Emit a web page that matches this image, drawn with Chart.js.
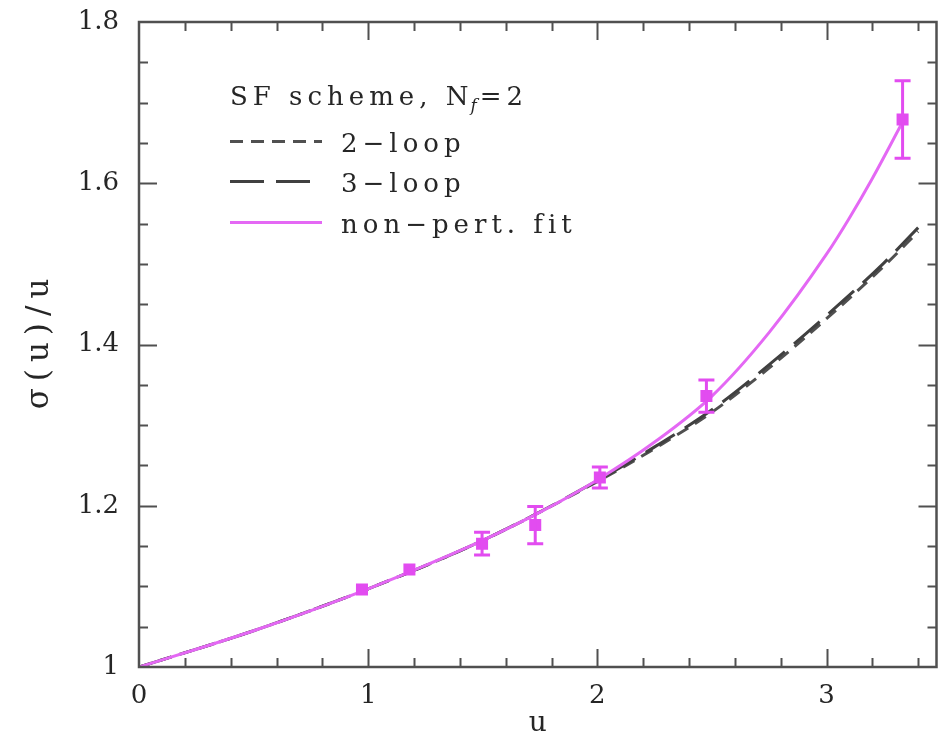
<!DOCTYPE html>
<html><head><meta charset="utf-8">
<script src="https://cdn.jsdelivr.net/npm/chart.js@4/dist/chart.umd.min.js"></script>
<style>html,body{margin:0;padding:0;background:#fff}#wrap{width:945px;height:742px;position:relative}</style>
</head><body><div id="wrap"><canvas id="c" width="945" height="742"></canvas></div>
<script>
// ---- data ----
const pointU   = [0.973, 1.180, 1.497, 1.729, 2.011, 2.476, 3.332];
const pointV   = [1.096, 1.121, 1.153, 1.176, 1.235, 1.336, 1.679];
const pointErr = [0.003, 0.004, 0.014, 0.023, 0.013, 0.020, 0.048];

const fitU = [0, 0.25, 0.5, 0.75, 1.0, 1.25, 1.5, 1.75, 2.0, 2.25, 2.5, 2.75, 3.0, 3.1, 3.2, 3.332];
const fitV = [1.000, 1.022, 1.045, 1.070, 1.097, 1.126, 1.157, 1.192, 1.232, 1.279, 1.336, 1.415, 1.512, 1.557, 1.606, 1.676];

const loop2U = [0, 0.5, 1.0, 1.5, 2.0, 2.25, 2.5, 2.75, 3.0, 3.25, 3.40];
const loop2V = [1.000, 1.045, 1.097, 1.157, 1.230, 1.271, 1.316, 1.371, 1.432, 1.497, 1.540];
const loop3U = [0, 0.5, 1.0, 1.5, 2.0, 2.25, 2.5, 2.75, 3.0, 3.25, 3.40];
const loop3V = [1.000, 1.045, 1.097, 1.157, 1.231, 1.273, 1.319, 1.375, 1.436, 1.501, 1.545];

const xTicks = [0, 1, 2, 3];
const yTicks = [1, 1.2, 1.4, 1.6, 1.8];
const yTickLabels = ['1', '1.2', '1.4', '1.6', '1.8'];

const seriesNames = ['2\u2212loop', '3\u2212loop', 'non\u2212pert. fit'];
const legendTitle = ['SF scheme, N', 'f', '=2'];
const xTitle = 'u';
const yTitle = '\u03c3(u)/u';

// ---- styles ----
const MAG = '#e468f4';
const MAGPT = '#e24cf0';
const DARK = '#262626';
const AXIS = '#505050';
const FONT = '"DejaVu Serif", serif';

const pairs = (xs, ys) => xs.map((x, i) => ({x, y: ys[i]}));

const frameTicksPlugin = {
  id: 'frameTicks',
  afterDraw(chart) {
    const {ctx, chartArea: a, scales: {x, y}} = chart;
    ctx.save();
    ctx.strokeStyle = AXIS;
    ctx.lineWidth = 2.5;
    ctx.strokeRect(a.left, a.top, a.right - a.left, a.bottom - a.top);
    ctx.lineWidth = 2;
    const drawX = (v, len) => {
      const px = Math.round(x.getPixelForValue(v)) + 0.5;
      if (px < a.left - 1 || px > a.right + 1) return;
      ctx.beginPath();
      ctx.moveTo(px, a.bottom); ctx.lineTo(px, a.bottom - len);
      ctx.moveTo(px, a.top); ctx.lineTo(px, a.top + len);
      ctx.stroke();
    };
    const drawY = (v, len) => {
      const py = Math.round(y.getPixelForValue(v)) + 0.5;
      if (py < a.top - 1 || py > a.bottom + 1) return;
      ctx.beginPath();
      ctx.moveTo(a.left, py); ctx.lineTo(a.left + len, py);
      ctx.moveTo(a.right, py); ctx.lineTo(a.right - len, py);
      ctx.stroke();
    };
    for (let i = 1; i * 0.2 < x.max; i++) {
      drawX(i * 0.2, i % 5 === 0 ? 18 : 9);
    }
    for (let i = 1; i < 16; i++) {
      drawY(1 + i * 0.05, i % 4 === 0 ? 18 : 9);
    }
    ctx.restore();
  }
};

const axisTitlePlugin = {
  id: 'axisTitles',
  afterDraw(chart) {
    const {ctx, chartArea: a} = chart;
    ctx.save();
    ctx.fillStyle = DARK;
    ctx.font = '28px ' + FONT;
    ctx.textAlign = 'center';
    ctx.textBaseline = 'middle';
    ctx.fillText(xTitle, (a.left + a.right) / 2, 724);
    ctx.translate(40, (a.top + a.bottom) / 2);
    ctx.rotate(-Math.PI / 2);
    ctx.letterSpacing = '7px';
    ctx.font = '31px ' + FONT;
    ctx.fillText(yTitle, 4, 0);
    ctx.restore();
  }
};

const errorBarPlugin = {
  id: 'errorBars',
  afterDatasetsDraw(chart) {
    const {ctx, scales: {x, y}} = chart;
    const ds = chart.data.datasets[0];
    ctx.save();
    ctx.strokeStyle = ds.borderColor;
    ctx.lineWidth = 3;
    ds.data.forEach((p, i) => {
      const e = ds.errors[i];
      const px = x.getPixelForValue(p.x);
      const top = y.getPixelForValue(p.y + e);
      const bot = y.getPixelForValue(p.y - e);
      ctx.beginPath();
      ctx.moveTo(px, top); ctx.lineTo(px, bot);
      if (bot - top > 10) {
        ctx.moveTo(px - 8, top); ctx.lineTo(px + 8, top);
        ctx.moveTo(px - 8, bot); ctx.lineTo(px + 8, bot);
      }
      ctx.stroke();
    });
    ctx.restore();
  }
};

const legendPlugin = {
  id: 'innerLegend',
  afterDraw(chart) {
    const {ctx} = chart;
    ctx.save();
    ctx.fillStyle = DARK;
    ctx.textBaseline = 'alphabetic';
    ctx.letterSpacing = '5px';
    ctx.font = '26px ' + FONT;
    let xx = 230;
    const by = 105;
    ctx.fillText(legendTitle[0], xx, by);
    xx += ctx.measureText(legendTitle[0]).width;
    ctx.font = 'italic 17px ' + FONT;
    ctx.letterSpacing = '0px';
    ctx.fillText(legendTitle[1], xx - 3, by + 6);
    xx += ctx.measureText(legendTitle[1]).width;
    ctx.font = '26px ' + FONT;
    ctx.letterSpacing = '5px';
    ctx.fillText(legendTitle[2], xx, by);

    const rows = [
      {ds: chart.data.datasets[3], y: 141.5, x2: 322},
      {ds: chart.data.datasets[2], y: 181.5, x2: 312},
      {ds: chart.data.datasets[1], y: 222.5, x2: 322}
    ];
    rows.forEach((r, i) => {
      ctx.save();
      ctx.strokeStyle = r.ds.borderColor;
      ctx.lineWidth = r.ds.borderWidth;
      ctx.setLineDash(r.ds.borderDash || []);
      ctx.beginPath();
      ctx.moveTo(230, r.y); ctx.lineTo(r.x2, r.y);
      ctx.stroke();
      ctx.restore();
      ctx.fillText(seriesNames[i], 341, r.y + 10);
    });
    ctx.restore();
  }
};

new Chart(document.getElementById('c'), {
  type: 'scatter',
  data: {
    datasets: [
      {
        label: 'data',
        data: pairs(pointU, pointV),
        errors: pointErr,
        showLine: false,
        pointStyle: 'rect',
        pointRadius: 8.5,
        backgroundColor: MAGPT,
        borderColor: MAGPT,
        borderWidth: 0
      },
      {
        label: seriesNames[2],
        data: pairs(fitU, fitV),
        showLine: true,
        pointRadius: 0,
        borderColor: MAG,
        borderWidth: 3,
        cubicInterpolationMode: 'monotone'
      },
      {
        label: seriesNames[1],
        data: pairs(loop3U, loop3V),
        showLine: true,
        pointRadius: 0,
        borderColor: '#404040',
        borderWidth: 3,
        borderDash: [34, 12],
        cubicInterpolationMode: 'monotone'
      },
      {
        label: seriesNames[0],
        data: pairs(loop2U, loop2V),
        showLine: true,
        pointRadius: 0,
        borderColor: '#505050',
        borderWidth: 3,
        borderDash: [13, 8],
        cubicInterpolationMode: 'monotone'
      }
    ]
  },
  options: {
    responsive: false,
    animation: false,
    events: [],
    layout: {padding: {left: 0, right: -2, top: 22, bottom: 0}},
    plugins: {legend: {display: false}, tooltip: {enabled: false}},
    scales: {
      x: {
        type: 'linear', min: 0, max: 3.48,
        afterBuildTicks: s => { s.ticks = xTicks.map(v => ({value: v})); },
        afterFit: s => { s.height = 75; s.paddingLeft = 0; s.paddingRight = 0; },
        grid: {display: false, drawTicks: false},
        border: {display: false},
        ticks: {color: DARK, padding: 14, font: {family: FONT, size: 26}, callback: v => String(v)},
        title: {display: false}
      },
      y: {
        type: 'linear', min: 1, max: 1.8,
        afterBuildTicks: s => { s.ticks = yTicks.map(v => ({value: v})); },
        afterFit: s => { s.width = 139; s.paddingTop = 0; s.paddingBottom = 0; },
        grid: {display: false, drawTicks: false},
        border: {display: false},
        ticks: {color: DARK, padding: 20, font: {family: FONT, size: 26},
          callback: (v, i) => yTickLabels[i]},
        title: {display: false}
      }
    }
  },
  plugins: [frameTicksPlugin, errorBarPlugin, legendPlugin, axisTitlePlugin]
});
</script>
</body></html>
